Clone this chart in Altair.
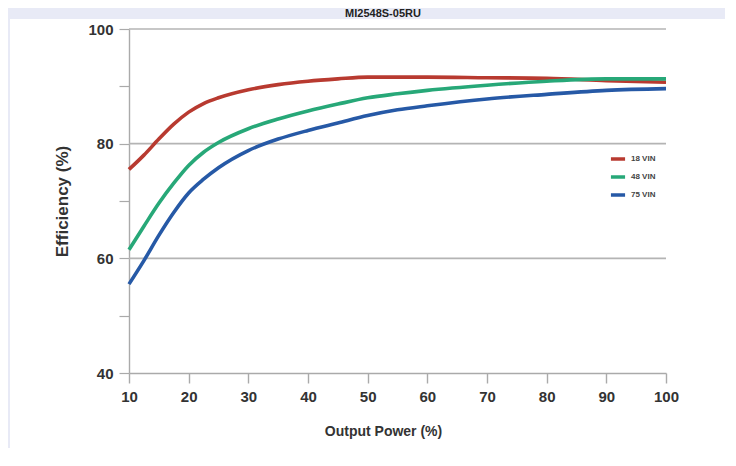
import altair as alt
import pandas as pd

# ---- data ----
power = [10, 12.5, 15, 17.5, 20, 22.5, 25, 30, 35, 40, 45, 50, 55, 60, 70, 80, 90, 100]
eff_18 = [75.5, 78.0, 80.8, 83.4, 85.5, 87.0, 88.0, 89.4, 90.3, 90.9, 91.3, 91.6, 91.6, 91.6, 91.5, 91.4, 91.0, 90.7]
eff_48 = [61.5, 65.6, 69.6, 73.1, 76.2, 78.5, 80.2, 82.6, 84.3, 85.7, 86.9, 88.0, 88.7, 89.3, 90.2, 90.9, 91.3, 91.3]
eff_75 = [55.5, 59.6, 64.0, 68.0, 71.4, 73.8, 75.8, 78.8, 80.8, 82.3, 83.6, 84.9, 85.9, 86.6, 87.8, 88.6, 89.3, 89.6]
series_names = ["18 VIN", "48 VIN", "75 VIN"]
series_colors = ["#b83a30", "#27a878", "#2659a6"]
x_ticks = [10, 20, 30, 40, 50, 60, 70, 80, 90, 100]
y_ticks = [40, 50, 60, 70, 80, 90, 100]
grid_values = [60, 80, 100]
title_text = "MI2548S-05RU"

rows = []
for name, vals in zip(series_names, [eff_18, eff_48, eff_75]):
    for p, v in zip(power, vals):
        rows.append({"power": p, "eff": v, "series": name})
df = pd.DataFrame(rows)

W, H = 537, 344

xscale = alt.Scale(domain=[10, 100], nice=False, zero=False)
yscale = alt.Scale(domain=[40, 100], nice=False, zero=False)

y_axis = alt.Axis(values=y_ticks, title="Efficiency (%)", grid=False,
                  labelExpr="datum.value % 20 == 0 ? datum.label : ''",
                  domainColor="#aaaaaa", domainWidth=1.4,
                  tickColor="#aaaaaa", tickWidth=1.2, tickSize=10,
                  labelFont="Liberation Sans", labelFontWeight="bold",
                  labelFontSize=15, labelColor="#333333", labelPadding=6,
                  titleFont="Liberation Sans", titleFontSize=17,
                  titleFontWeight="bold", titleColor="#333333",
                  titleX=-62, titleY=H / 2, titleAngle=-90,
                  titleBaseline="alphabetic", titleAlign="center")

x_axis = alt.Axis(values=x_ticks, title="Output Power (%)", grid=False,
                  domainColor="#aaaaaa", domainWidth=1.6,
                  tickColor="#aaaaaa", tickWidth=1.4, tickSize=10,
                  labelFont="Liberation Sans", labelFontWeight="bold",
                  labelFontSize=15, labelColor="#333333", labelPadding=6,
                  labelFlush=False,
                  titleFont="Liberation Sans", titleFontSize=14,
                  titleFontWeight="bold", titleColor="#333333",
                  titleX=254, titleY=51, titleBaseline="top")

grid = alt.Chart(pd.DataFrame({"g": grid_values})).mark_rule(
    color="#b4b4b4", strokeWidth=1.6
).encode(
    y=alt.Y("g:Q", scale=yscale, axis=y_axis),
)

lines = alt.Chart(df).mark_line(strokeWidth=3.6, interpolate="monotone").encode(
    x=alt.X("power:Q", scale=xscale, axis=x_axis),
    y=alt.Y("eff:Q", scale=yscale, axis=y_axis),
    color=alt.Color("series:N",
                    scale=alt.Scale(domain=series_names, range=series_colors),
                    legend=alt.Legend(title=None, orient="none", legendX=480, legendY=121,
                                      symbolType="stroke", symbolStrokeWidth=3.5,
                                      symbolSize=200, rowPadding=2,
                                      labelFont="Liberation Sans", labelFontSize=8,
                                      labelFontWeight="bold", labelColor="#444444")),
)

band = alt.Chart(pd.DataFrame({"t": [title_text]})).mark_rect(color="#e8eaf6").encode(
    x=alt.value(-121), x2=alt.value(596), y=alt.value(-30), y2=alt.value(-10)
)
edge = alt.Chart(pd.DataFrame({"t": [title_text]})).mark_rect(color="#e8eaf6").encode(
    x=alt.value(-121), x2=alt.value(-119), y=alt.value(-10), y2=alt.value(419)
)
title = alt.Chart(pd.DataFrame({"t": [title_text]})).mark_text(
    font="Liberation Sans", fontWeight="bold", fontSize=11, color="#222222",
    baseline="alphabetic", align="center"
).encode(text="t:N", x=alt.value(254), y=alt.value(-12))

chart = alt.layer(band, edge, title, grid, lines).properties(
    width=W, height=H,
    autosize=alt.AutoSizeParams(type="none"),
    padding={"left": 121, "top": 21, "right": 62, "bottom": 80},
    background="white",
).configure_view(stroke=None)

chart.save("out.html", embed_options={"renderer": "svg", "actions": False})
